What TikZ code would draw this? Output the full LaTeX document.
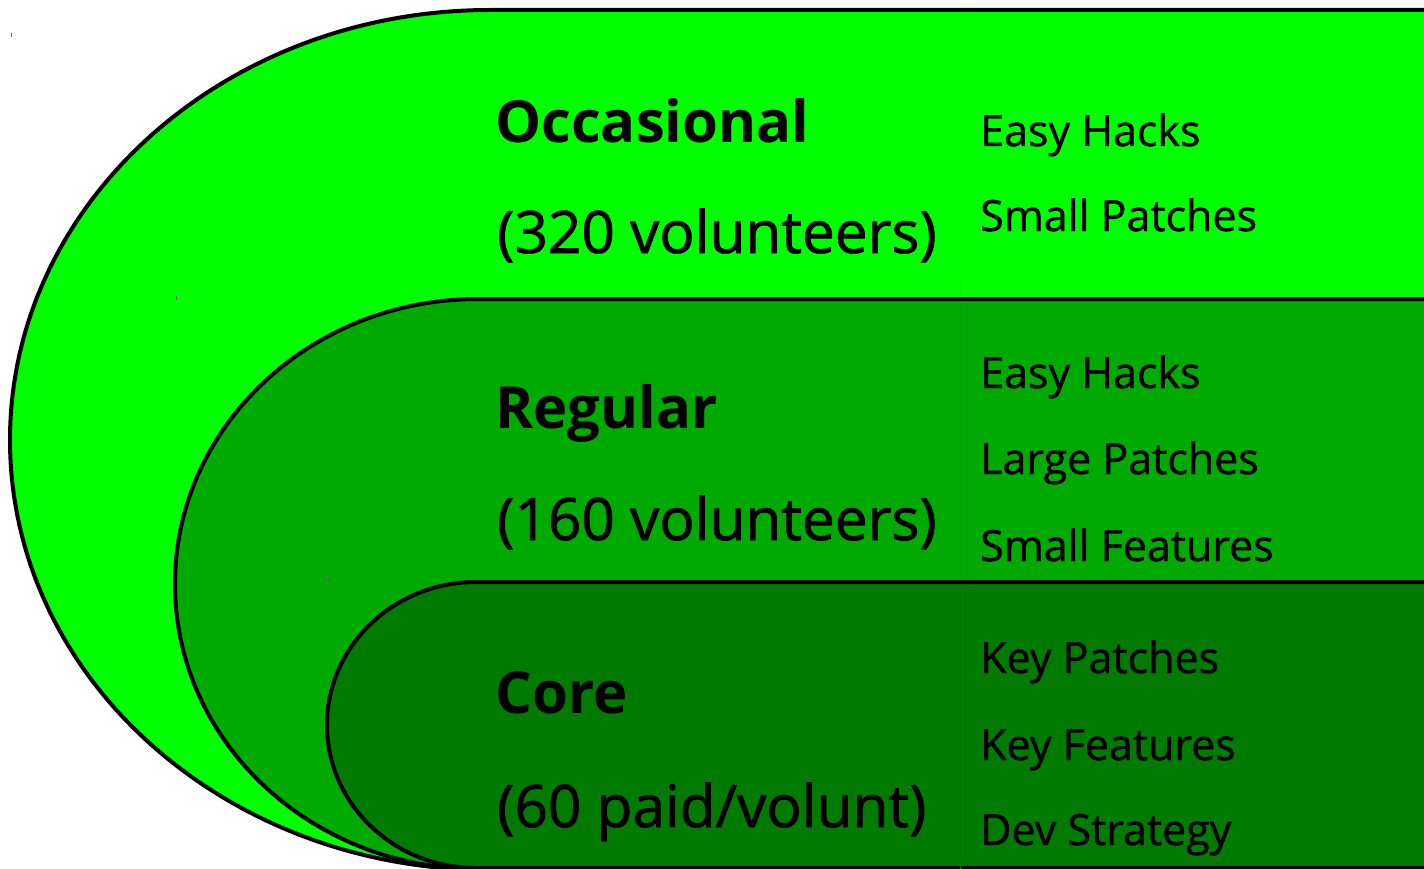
\documentclass[tikz,border=0pt]{standalone}
\usepackage{fontspec}
\setmainfont{Open Sans}
\newfontfamily\medfont[FakeBold=1.3]{Open Sans}
\newfontfamily\taskfont[FakeBold=1.0]{Open Sans}
\usepackage{xcolor}
\definecolor{occgreen}{HTML}{00FF00}
\definecolor{reggreen}{HTML}{00AA00}
\definecolor{coregreen}{HTML}{007A00}

\begin{document}
\begin{tikzpicture}[x=1pt,y=-1pt]
\tikzset{band/.style = {draw=black, line width=4pt}}
\tikzset{heading/.style = {anchor=base west, inner sep=0pt,
	font=\bfseries\fontsize{58}{70}\selectfont}}
\tikzset{count/.style = {anchor=base west, inner sep=0pt,
	font=\medfont\fontsize{58.5}{70}\selectfont}}
\tikzset{task/.style = {anchor=base west, inner sep=0pt,
	font=\taskfont\fontsize{43}{52}\selectfont}}
\useasboundingbox (0,0) rectangle (1424,869);
\clip (0,0) rectangle (1424,869);
% bands
\draw[band, fill=occgreen] (1440,10) -- (490,10)
	arc[start angle=-90, end angle=-270, x radius=480, y radius=430] -- (1440,870) -- cycle;
\draw[band, fill=reggreen] (1440,299) -- (478,299)
	arc[start angle=-90, end angle=-270, x radius=303, y radius=285] -- (1440,869) -- cycle;
\draw[band, fill=coregreen] (1440,582) -- (476,582)
	arc[start angle=-90, end angle=-270, x radius=149, y radius=143] -- (1440,868) -- cycle;
% seams
\draw[occgreen!96!black, line width=0.8pt] (960,13) -- (960,296);
\draw[reggreen!96!black, line width=0.8pt] (960,302) -- (960,579);
\draw[coregreen!96!black, line width=0.8pt] (960,585) -- (960,869);
\draw[black!60, line width=1pt] (11,33) -- (11,37);
\draw[black!60, line width=1pt] (176,296) -- (176,300);
\draw[black!60, line width=1pt] (328,578) -- (328,582);
% labels
\node[heading] (occ) at (495,143) {Occasional};
\node[count] (occn) at (497,253) {(320 volunteers)};
\node[heading] (reg) at (495,428) {Regular};
\node[count] (regn) at (497,540) {(160 volunteers)};
\node[heading] (core) at (495,713) {Core};
\node[count] (coren) at (497,827) {(60 paid/volunt)};
% tasks
\node[task] (t1) at (980,146) {Easy Hacks};
\node[task] (t2) at (980,231) {Small Patches};
\node[task] (t3) at (980,388) {Easy Hacks};
\node[task] (t4) at (980,474) {Large Patches};
\node[task] (t5) at (980,561) {Small Features};
\node[task] (t6) at (980,673) {Key Patches};
\node[task] (t7) at (980,760) {Key Features};
\node[task] (t8) at (980,845) {Dev Strategy};
\end{tikzpicture}
\end{document}
